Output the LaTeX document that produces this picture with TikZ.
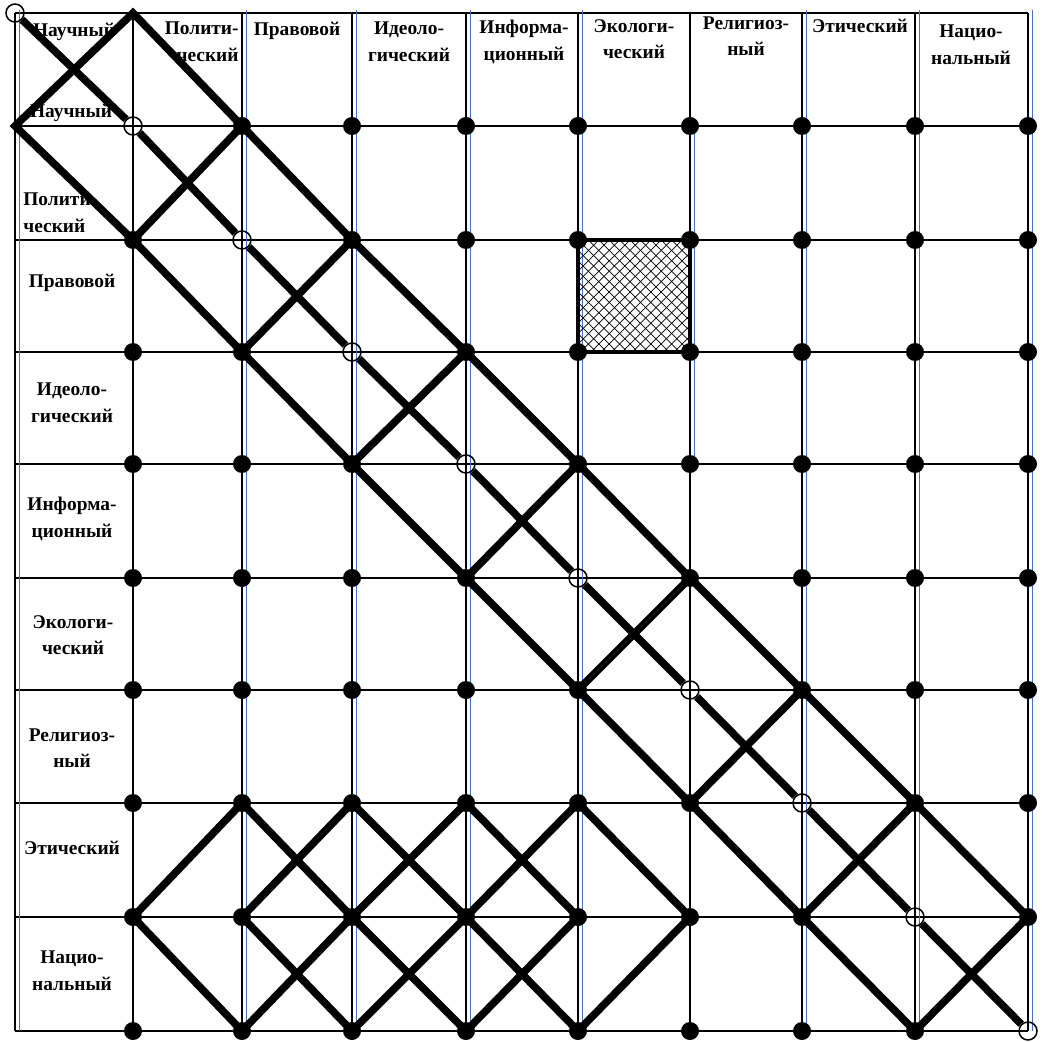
\documentclass[tikz,border=0pt]{standalone}
\usepackage{fontspec}
\setmainfont{Liberation Serif}[BoldFont={Liberation Serif Bold}]
\definecolor{wordblue}{RGB}{68,114,196}
\begin{document}
\begin{tikzpicture}[x=0.5pt,y=-0.5pt,
  grid/.style={line width=1pt,black},
  blueline/.style={line width=0.9pt,draw=wordblue},
  band/.style={line width=3.8pt,line join=miter,line cap=butt},
  hatchline/.style={line width=0.35pt,black},
  dot/.style={circle,fill=black,inner sep=0pt,minimum size=9pt},
  odot/.style={circle,draw=black,line width=0.75pt,inner sep=0pt,minimum size=9pt},
  lab/.style={font=\bfseries\fontsize{9.7}{13.3}\selectfont,inner sep=0pt,align=center},
]
\useasboundingbox (0,0) rectangle (1042,1042);
\fill[white] (0,0) rectangle (1042,1042);
% grid coordinates
\foreach \xx [count=\i from 0] in {15,133,242,352,466,578,690,802,915,1028}{
  \foreach \yy [count=\j from 0] in {13,126,240,352,464,578,690,803,917,1031}{
    \coordinate (p-\i-\j) at (\xx,\yy);
  }
}
% grid lines
\foreach \j in {1,...,9} \draw[grid] (p-0-\j) -- (p-9-\j);
\draw[grid,line width=1.3pt] (p-0-0) -- (p-9-0);
\foreach \i in {0,...,9} \draw[grid] (p-\i-0) -- (p-\i-9);
% blue rules
\foreach \i in {0,2,3,4,5,7,8,9}
  \draw[blueline] ([xshift=2.2pt,yshift=1.5pt]p-\i-0) -- ([xshift=2.2pt]p-\i-9);
\draw[blueline] ([xshift=2.2pt]p-6-1) -- ([xshift=2.2pt]p-6-4);
% hatched cell
\begin{scope}
  \clip (p-5-2) rectangle (p-6-3);
  \foreach \k in {-12,...,23}{
    \draw[hatchline] ({578+\k*10.4},240) -- ++(112,112);
    \draw[hatchline] ({578+\k*10.4},240) -- ++(-112,112);
  }
\end{scope}
\draw[line width=1.6pt] (p-5-2) rectangle (p-6-3);
% column headers
\node[lab] (h0) at (74,32) {Научный};
\node[lab,align=right,anchor=east] (h1) at (239,42) {Полити-\\ческий};
\node[lab] (h2) at (297,31) {Правовой};
\node[lab] (h3) at (409,42) {Идеоло-\\гический};
\node[lab] (h4) at (524,42) {Информа-\\ционный};
\node[lab] (h5) at (634,39) {Экологи-\\ческий};
\node[lab] (h6) at (746,36) {Религиоз-\\ный};
\node[lab] (h7) at (860,26) {Этический};
\node[lab] (h8) at (971,45) {Нацио-\\нальный};
% row labels
\node[lab] (r0) at (71,113) {Научный};
\node[lab,align=left,anchor=west] (r1) at (23,213) {Полити-\\ческий};
\node[lab] (r2) at (72,283) {Правовой};
\node[lab] (r3) at (72,403) {Идеоло-\\гический};
\node[lab] (r4) at (72,519) {Информа-\\ционный};
\node[lab] (r5) at (73,635) {Экологи-\\ческий};
\node[lab] (r6) at (72,748) {Религиоз-\\ный};
\node[lab] (r7) at (72,848) {Этический};
\node[lab] (r8) at (72,971) {Нацио-\\нальный};
% open circles on the diagonal
\foreach \k in {0,...,9} \node[odot] (o-\k) at (p-\k-\k) {};
% main diagonal
\foreach \a [evaluate=\a as \b using int(\a+1)] in {0,...,8}
  \draw[band] (o-\a) -- (o-\b);
% the two parallel diagonals joined at the top-left corner
\draw[band] (p-9-8) -- (p-8-7) -- (p-7-6) -- (p-6-5) -- (p-5-4) -- (p-4-3) -- (p-3-2) -- (p-2-1) -- (p-1-0)
  -- (p-0-1) -- (p-1-2) -- (p-2-3) -- (p-3-4) -- (p-4-5) -- (p-5-6) -- (p-6-7) -- (p-7-8) -- (p-8-9);
% cross strokes along the band
\foreach \a [evaluate=\a as \b using int(\a+1)] in {1,...,8}
  \draw[band] (p-\a-\b) -- (p-\b-\a);
% lower lattice
\draw[band] (p-2-7) -- (p-1-8) -- (p-2-9);
\draw[band] (p-5-7) -- (p-6-8) -- (p-5-9);
\foreach \c [evaluate=\c as \d using int(\c+1)] in {2,3,4}{
  \foreach \r [evaluate=\r as \s using int(\r+1)] in {7,8}{
    \draw[band] (p-\c-\r) -- (p-\d-\s);
    \draw[band] (p-\c-\s) -- (p-\d-\r);
  }
}
% filled dots
\foreach \i in {1,...,9}{
  \foreach \j in {1,...,9}{
    \ifnum\i=\j\relax\else \node[dot] (d-\i-\j) at (p-\i-\j) {};\fi
  }
}
\end{tikzpicture}
\end{document}
